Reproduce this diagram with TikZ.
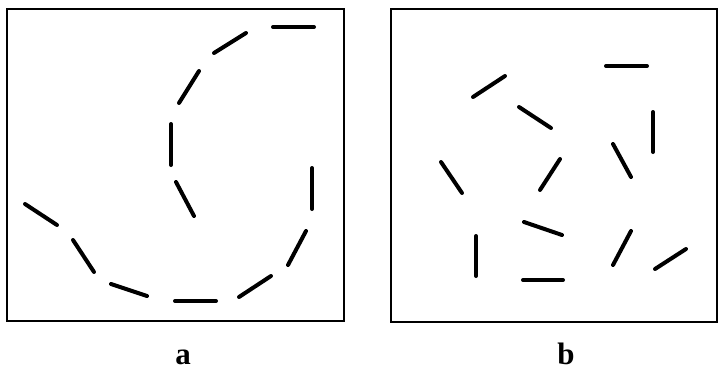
\documentclass[tikz,border=0pt]{standalone}
\usepackage{fontspec}
\setmainfont{Liberation Serif}
\usepackage{tikz}
\usetikzlibrary{positioning}
\tikzset{
  frame/.style={draw=black,line width=1.6pt},
  stroke/.style={draw=black,line width=4pt,line cap=round},
  caption/.style={font=\fontsize{31}{31}\selectfont\bfseries,inner sep=0pt,anchor=base}
}
\begin{document}
\begin{tikzpicture}[x=1pt,y=-1pt]
        \useasboundingbox (0,0) rectangle (719,372);
        % panel a
        \draw[frame] (7,9) rectangle (344,321);
        \foreach \xa/\ya/\xb/\yb in {273/27/314/27, 214/53/246/33, 179/103/199/71,
            171/124/171/165, 176/182/194/216, 312/168/312/209, 306/231/288/265,
            271/276/239/297, 175/301/216/301, 111/284/147/296, 73/240/94/272, 25/204/57/225}
          \draw[stroke] (\xa,\ya) -- (\xb,\yb);
        \node[caption] (capa) at (183,364) {a};
        % panel b
        \draw[frame] (391,9) rectangle (717,322);
        \foreach \xa/\ya/\xb/\yb in {606/66/647/66, 473/97/505/76, 519/107/551/128,
            653/112/653/152, 613/144/631/177, 441/162/462/193, 540/190/560/159,
            524/222/562/235, 476/236/476/276, 523/280/563/280, 613/265/631/231, 655/269/686/249}
          \draw[stroke] (\xa,\ya) -- (\xb,\yb);
        \node[caption] (capb) at (566,364) {b};
      \end{tikzpicture}
\end{document}
